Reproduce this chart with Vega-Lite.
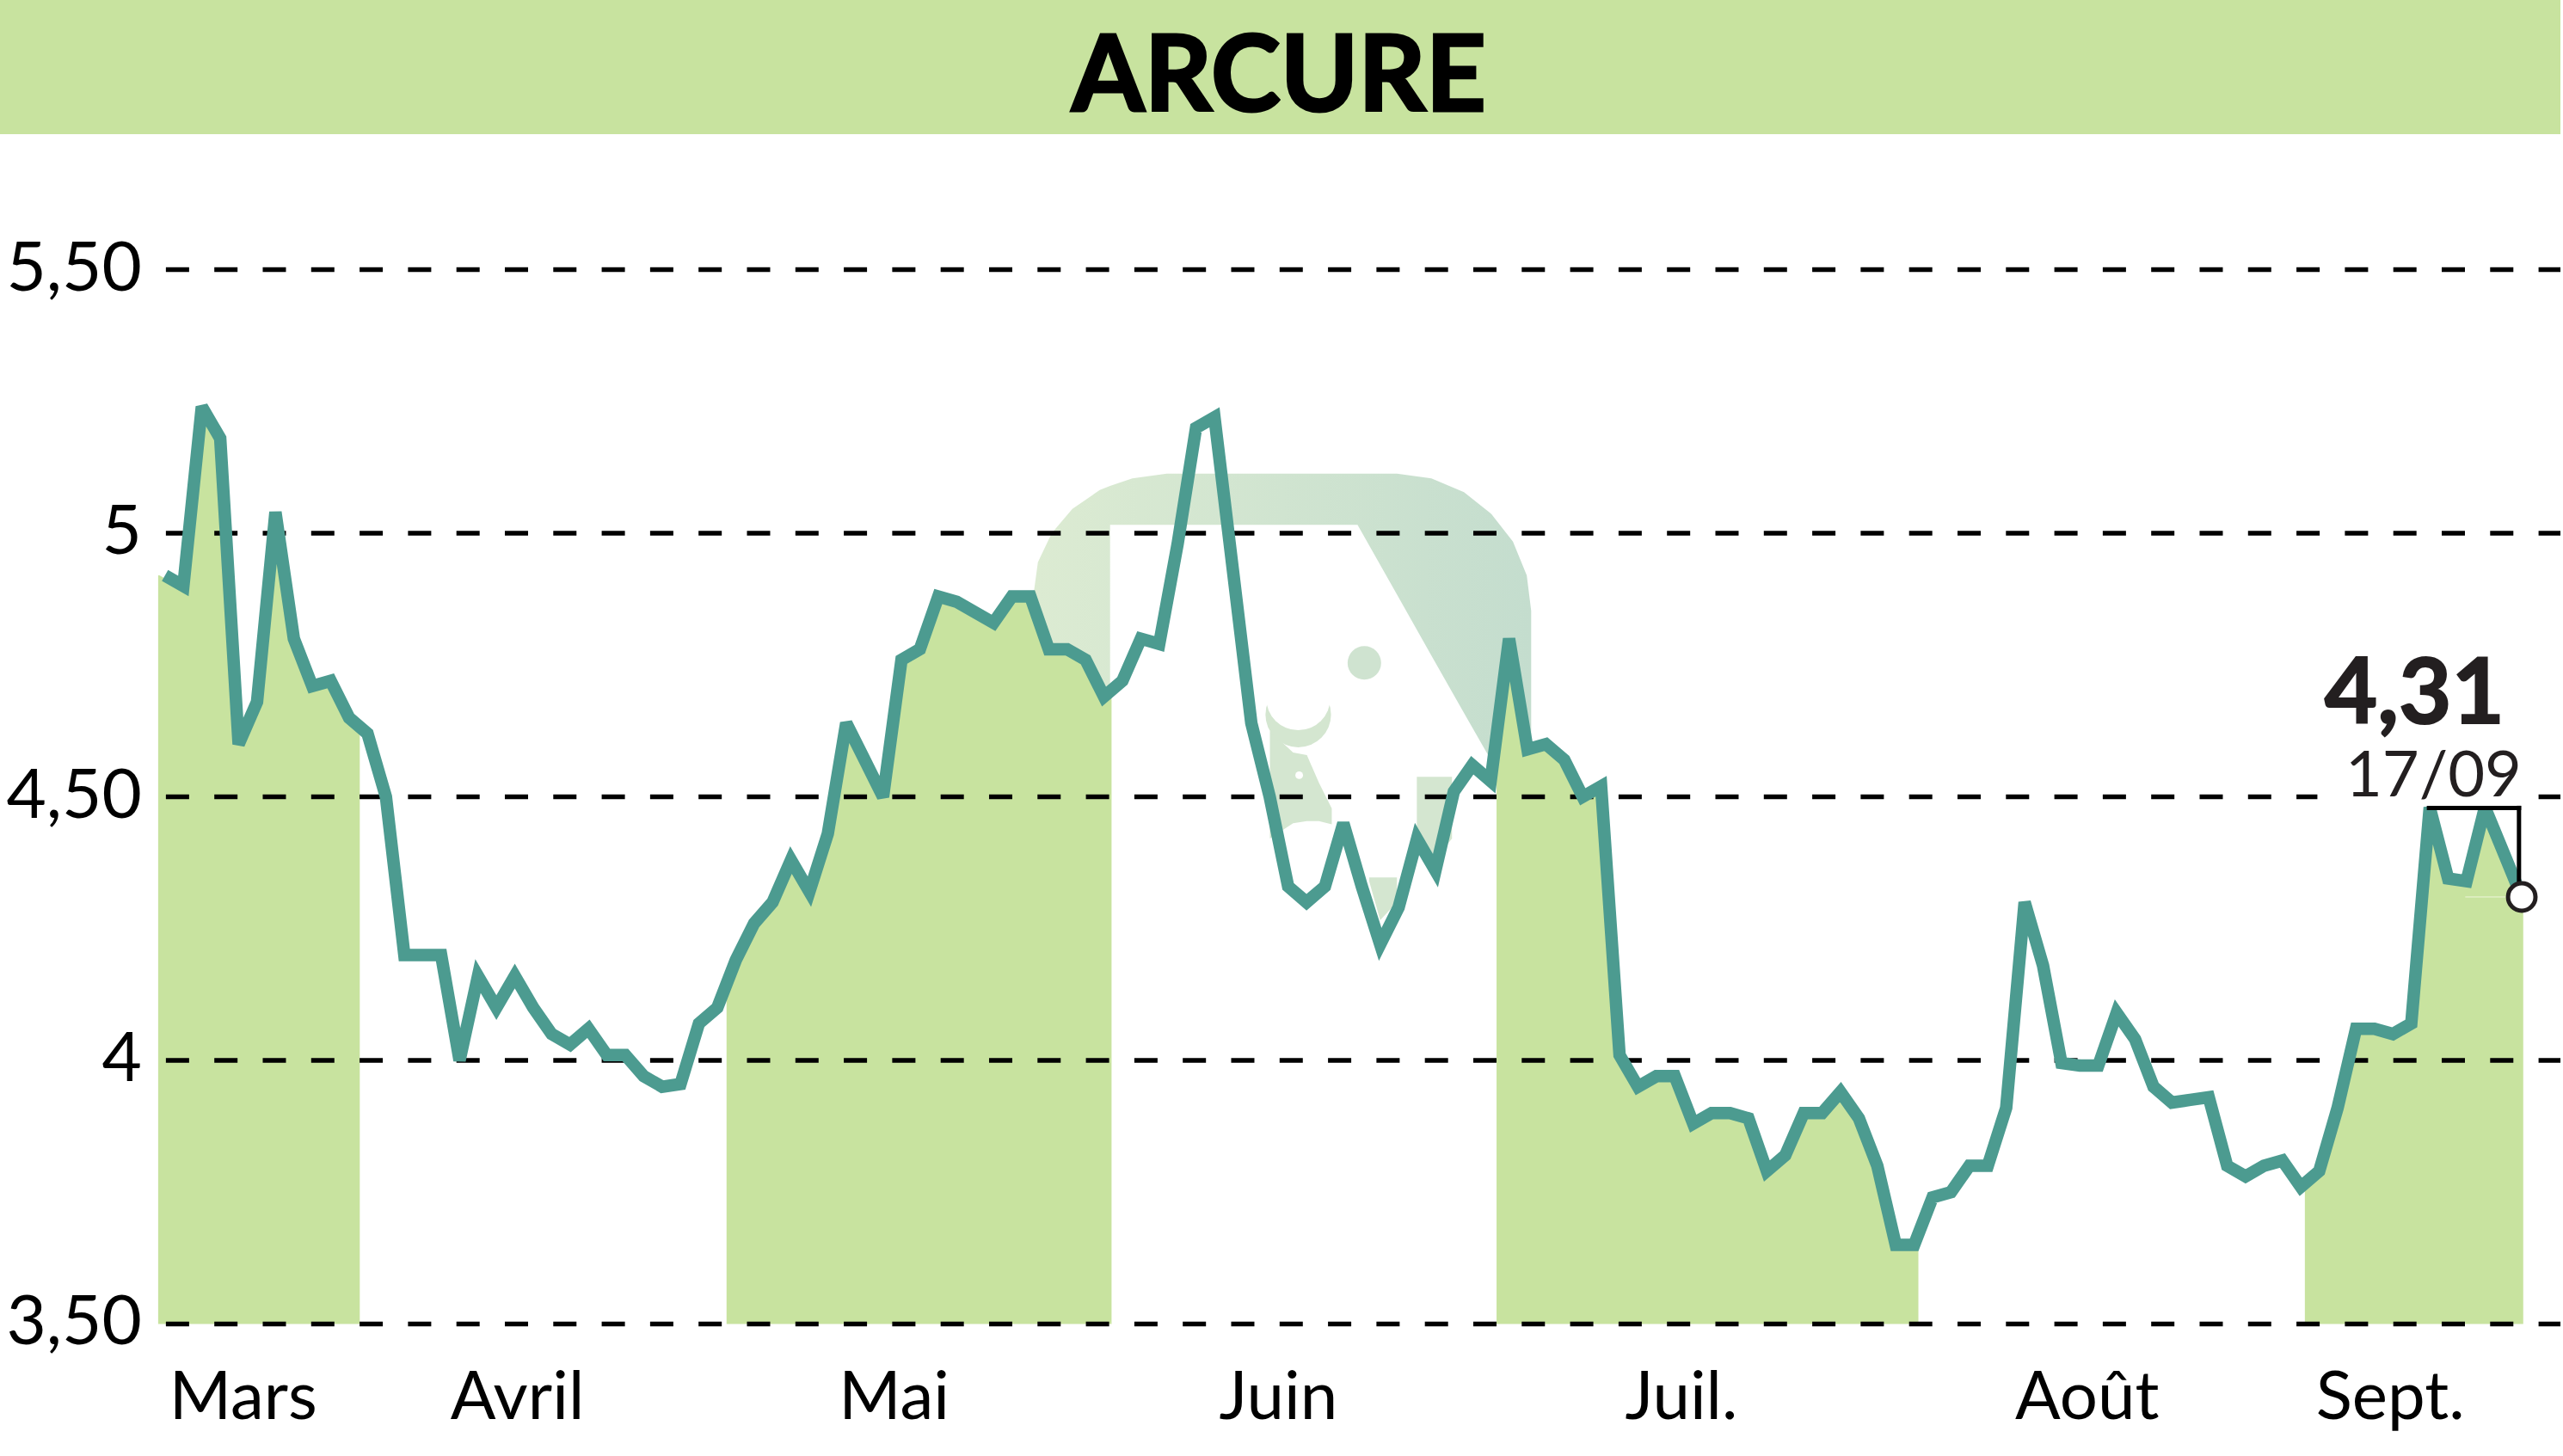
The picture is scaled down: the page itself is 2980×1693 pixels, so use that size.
{
  "$schema": "https://vega.github.io/schema/vega-lite/v6.json",
  "autosize": {"type": "fit", "contains": "padding"},
  "padding": 0,
  "width": 2980,
  "height": 1693,
  "background": "white",
  "config": {"view": {"stroke": null}, "axis": {"disable": true}, "text": {"font": "Lato"}},
  "datasets": {
    "prices": [
      {"day":0,"price":4.92},{"day":1,"price":4.90},{"day":2,"price":5.24},{"day":3,"price":5.18},{"day":4,"price":4.60},{"day":5,"price":4.68},{"day":6,"price":5.04},{"day":7,"price":4.80},{"day":8,"price":4.71},{"day":9,"price":4.72},
      {"day":10,"price":4.65},{"day":11,"price":4.62},{"day":12,"price":4.50},{"day":13,"price":4.20},{"day":14,"price":4.20},{"day":15,"price":4.20},{"day":16,"price":4.00},{"day":17,"price":4.16},{"day":18,"price":4.10},{"day":19,"price":4.16},
      {"day":20,"price":4.10},{"day":21,"price":4.05},{"day":22,"price":4.03},{"day":23,"price":4.06},{"day":24,"price":4.01},{"day":25,"price":4.01},{"day":26,"price":3.97},{"day":27,"price":3.95},{"day":28,"price":3.955},{"day":29,"price":4.07},
      {"day":30,"price":4.10},{"day":31,"price":4.19},{"day":32,"price":4.26},{"day":33,"price":4.30},{"day":34,"price":4.38},{"day":35,"price":4.32},{"day":36,"price":4.43},{"day":37,"price":4.64},{"day":38,"price":4.57},{"day":39,"price":4.50},
      {"day":40,"price":4.76},{"day":41,"price":4.78},{"day":42,"price":4.88},{"day":43,"price":4.87},{"day":44,"price":4.85},{"day":45,"price":4.83},{"day":46,"price":4.88},{"day":47,"price":4.88},{"day":48,"price":4.78},{"day":49,"price":4.78},
      {"day":50,"price":4.76},{"day":51,"price":4.69},{"day":52,"price":4.72},{"day":53,"price":4.80},{"day":54,"price":4.79},{"day":55,"price":4.98},{"day":56,"price":5.20},{"day":57,"price":5.22},{"day":58,"price":4.93},{"day":59,"price":4.64},
      {"day":60,"price":4.50},{"day":61,"price":4.33},{"day":62,"price":4.30},{"day":63,"price":4.33},{"day":64,"price":4.45},{"day":65,"price":4.33},{"day":66,"price":4.22},{"day":67,"price":4.29},{"day":68,"price":4.42},{"day":69,"price":4.36},
      {"day":70,"price":4.51},{"day":71,"price":4.56},{"day":72,"price":4.53},{"day":73,"price":4.80},{"day":74,"price":4.59},{"day":75,"price":4.60},{"day":76,"price":4.57},{"day":77,"price":4.50},{"day":78,"price":4.52},{"day":79,"price":4.01},
      {"day":80,"price":3.95},{"day":81,"price":3.97},{"day":82,"price":3.97},{"day":83,"price":3.88},{"day":84,"price":3.90},{"day":85,"price":3.90},{"day":86,"price":3.89},{"day":87,"price":3.79},{"day":88,"price":3.82},{"day":89,"price":3.90},
      {"day":90,"price":3.90},{"day":91,"price":3.94},{"day":92,"price":3.89},{"day":93,"price":3.80},{"day":94,"price":3.65},{"day":95,"price":3.65},{"day":96,"price":3.74},{"day":97,"price":3.75},{"day":98,"price":3.80},{"day":99,"price":3.80},
      {"day":100,"price":3.91},{"day":101,"price":4.30},{"day":102,"price":4.18},{"day":103,"price":3.995},{"day":104,"price":3.99},{"day":105,"price":3.99},{"day":106,"price":4.09},{"day":107,"price":4.04},{"day":108,"price":3.95},{"day":109,"price":3.92},
      {"day":110,"price":3.925},{"day":111,"price":3.93},{"day":112,"price":3.80},{"day":113,"price":3.78},{"day":114,"price":3.80},{"day":115,"price":3.81},{"day":116,"price":3.76},{"day":117,"price":3.79},{"day":118,"price":3.91},{"day":119,"price":4.06},
      {"day":120,"price":4.06},{"day":121,"price":4.05},{"day":122,"price":4.07},{"day":123,"price":4.48},{"day":124,"price":4.345},{"day":125,"price":4.34},{"day":126,"price":4.48},{"day":127,"price":4.395},{"day":128,"price":4.31}
    ],
    "shade": [
      {"month":"Mars","x":-0.37,"price":4.92},{"month":"Mars","x":-0.3,"price":4.92},{"month":"Mars","x":0.7,"price":4.90},{"month":"Mars","x":1.7,"price":5.24},{"month":"Mars","x":2.7,"price":5.18},{"month":"Mars","x":3.7,"price":4.60},{"month":"Mars","x":4.7,"price":4.68},{"month":"Mars","x":5.7,"price":5.04},{"month":"Mars","x":6.7,"price":4.80},{"month":"Mars","x":7.7,"price":4.71},{"month":"Mars","x":8.7,"price":4.72},{"month":"Mars","x":9.7,"price":4.65},{"month":"Mars","x":10.58,"price":4.63},
      {"month":"Mai","x":30.5,"price":4.145},{"month":"Mai","x":30.7,"price":4.19},{"month":"Mai","x":31.7,"price":4.26},{"month":"Mai","x":32.7,"price":4.30},{"month":"Mai","x":33.7,"price":4.38},{"month":"Mai","x":34.7,"price":4.32},{"month":"Mai","x":35.7,"price":4.43},{"month":"Mai","x":36.7,"price":4.64},{"month":"Mai","x":37.7,"price":4.57},{"month":"Mai","x":38.7,"price":4.50},{"month":"Mai","x":39.7,"price":4.76},{"month":"Mai","x":40.7,"price":4.78},{"month":"Mai","x":41.7,"price":4.88},{"month":"Mai","x":42.7,"price":4.87},{"month":"Mai","x":43.7,"price":4.85},{"month":"Mai","x":44.7,"price":4.83},{"month":"Mai","x":45.7,"price":4.88},{"month":"Mai","x":46.7,"price":4.88},{"month":"Mai","x":47.7,"price":4.78},{"month":"Mai","x":48.7,"price":4.78},{"month":"Mai","x":49.7,"price":4.76},{"month":"Mai","x":50.7,"price":4.69},{"month":"Mai","x":51.41,"price":4.70},
      {"month":"Juil.","x":72.32,"price":4.617},{"month":"Juil.","x":72.7,"price":4.80},{"month":"Juil.","x":73.7,"price":4.59},{"month":"Juil.","x":74.7,"price":4.60},{"month":"Juil.","x":75.7,"price":4.57},{"month":"Juil.","x":76.7,"price":4.50},{"month":"Juil.","x":77.7,"price":4.52},{"month":"Juil.","x":78.7,"price":4.01},{"month":"Juil.","x":79.7,"price":3.95},{"month":"Juil.","x":80.7,"price":3.97},{"month":"Juil.","x":81.7,"price":3.97},{"month":"Juil.","x":82.7,"price":3.88},{"month":"Juil.","x":83.7,"price":3.90},{"month":"Juil.","x":84.7,"price":3.90},{"month":"Juil.","x":85.7,"price":3.89},{"month":"Juil.","x":86.7,"price":3.79},{"month":"Juil.","x":87.7,"price":3.82},{"month":"Juil.","x":88.7,"price":3.90},{"month":"Juil.","x":89.7,"price":3.90},{"month":"Juil.","x":90.7,"price":3.94},{"month":"Juil.","x":91.7,"price":3.89},{"month":"Juil.","x":92.7,"price":3.80},{"month":"Juil.","x":93.7,"price":3.65},{"month":"Juil.","x":94.7,"price":3.65},{"month":"Juil.","x":95.23,"price":3.67},
      {"month":"Sept.","x":116.22,"price":3.77},{"month":"Sept.","x":116.7,"price":3.79},{"month":"Sept.","x":117.7,"price":3.91},{"month":"Sept.","x":118.7,"price":4.06},{"month":"Sept.","x":119.7,"price":4.06},{"month":"Sept.","x":120.7,"price":4.05},{"month":"Sept.","x":121.7,"price":4.07},{"month":"Sept.","x":122.7,"price":4.48},{"month":"Sept.","x":123.7,"price":4.345},{"month":"Sept.","x":124.7,"price":4.34},{"month":"Sept.","x":125.7,"price":4.48},{"month":"Sept.","x":126.7,"price":4.395},{"month":"Sept.","x":127.7,"price":4.31},{"month":"Sept.","x":128.08,"price":4.31}
    ],
    "logo": [
      {"x":47.18,"top":4.886,"bottom":4.65},{"x":47.41,"top":4.945,"bottom":4.65},{"x":48.16,"top":5.0,"bottom":4.65},{"x":49.28,"top":5.046,"bottom":4.65},{"x":50.77,"top":5.082,"bottom":4.65},{"x":51.33,"top":5.09,"bottom":4.65},
      {"x":51.33,"top":5.09,"bottom":5.016},{"x":52.54,"top":5.104,"bottom":5.016},{"x":54.41,"top":5.113,"bottom":5.016},{"x":64.77,"top":5.113,"bottom":5.016},{"x":66.91,"top":5.113,"bottom":4.884},
      {"x":68.78,"top":5.104,"bottom":4.768},{"x":70.55,"top":5.078,"bottom":4.659},{"x":71.96,"top":5.039,"bottom":4.573},{"x":72.05,"top":5.036,"bottom":4.573},{"x":73.21,"top":4.984,"bottom":4.573},{"x":73.96,"top":4.92,"bottom":4.573},{"x":74.2,"top":4.853,"bottom":4.573}
    ],
    "logoBits": [
      {"piece":"trunk","x":60.01,"top":4.625,"bottom":4.421},{"piece":"trunk","x":61.27,"top":4.584,"bottom":4.450},{"piece":"trunk","x":62.02,"top":4.579,"bottom":4.454},{"piece":"trunk","x":62.67,"top":4.527,"bottom":4.454},{"piece":"trunk","x":63.37,"top":4.478,"bottom":4.448},
      {"piece":"block","x":67.99,"top":4.538,"bottom":4.421},{"piece":"block","x":68.97,"top":4.538,"bottom":4.380},{"piece":"block","x":69.9,"top":4.538,"bottom":4.421},
      {"piece":"foot","x":65.4,"top":4.347,"bottom":4.34},{"piece":"foot","x":66.0,"top":4.347,"bottom":4.266},{"piece":"foot","x":66.91,"top":4.347,"bottom":4.30}
    ],
    "grid": [{"level":5.5,"start":0.05,"end":130.1},{"level":5,"start":0.05,"end":130.1},{"level":4.5,"start":0.05,"end":130.1},{"level":4,"start":0.05,"end":130.1},{"level":3.5,"start":0.05,"end":130.1}]
  },
  "layer": [
    {
      "data": {"values": [{"from": -8.96, "to": 130.1, "low": 5.757, "high": 6.0117}]},
      "mark": {"type": "rect", "color": "#c8e39f"},
      "encoding": {
        "x": {"field": "from", "type": "quantitative", "scale": {"domain": [-8.96, 130.1], "nice": false, "zero": false}},
        "x2": {"field": "to"},
        "y": {"field": "low", "type": "quantitative", "scale": {"domain": [3.2494, 6.0117], "nice": false, "zero": false}},
        "y2": {"field": "high"}
      }
    },
    {
      "data": {"name": "logo"},
      "mark": {"type": "area", "color": {"x1": 0, "y1": 0, "x2": 1, "y2": 0, "gradient": "linear", "stops": [{"offset": 0, "color": "#dcebd2"}, {"offset": 1, "color": "#c4ddce"}]}},
      "encoding": {
        "x": {"field": "x", "type": "quantitative"},
        "y": {"field": "top", "type": "quantitative"},
        "y2": {"field": "bottom"}
      }
    },
    {
      "data": {"name": "logoBits"},
      "mark": {"type": "area", "color": "#d4e6d0"},
      "encoding": {
        "x": {"field": "x", "type": "quantitative"},
        "y": {"field": "top", "type": "quantitative"},
        "y2": {"field": "bottom"},
        "detail": {"field": "piece"}
      }
    },
    {
      "data": {"values": [
        {"x": 61.55, "y": 4.656, "area": 5809, "tone": "#d4e6d0", "rank": 1},
        {"x": 61.55, "y": 4.687, "area": 5542, "tone": "#ffffff", "rank": 2},
        {"x": 61.6, "y": 4.541, "area": 80, "tone": "#ffffff", "rank": 3},
        {"x": 65.14, "y": 4.754, "area": 1520, "tone": "#cfe3d0", "rank": 4}
      ]},
      "mark": {"type": "point", "shape": "circle", "filled": true, "opacity": 1},
      "encoding": {
        "x": {"field": "x", "type": "quantitative"},
        "y": {"field": "y", "type": "quantitative"},
        "size": {"field": "area", "type": "quantitative", "scale": null},
        "color": {"field": "tone", "type": "nominal", "scale": null},
        "order": {"field": "rank"}
      }
    },
    {
      "data": {"name": "shade"},
      "mark": {"type": "area", "color": "#c8e39f"},
      "encoding": {
        "x": {"field": "x", "type": "quantitative"},
        "y": {"field": "price", "type": "quantitative"},
        "y2": {"datum": 3.5},
        "detail": {"field": "month"}
      }
    },
    {
      "data": {"name": "grid"},
      "mark": {"type": "rule", "color": "#000000", "strokeWidth": 5.5, "strokeDash": [27, 29.3]},
      "encoding": {
        "x": {"field": "start", "type": "quantitative"},
        "x2": {"field": "end"},
        "y": {"field": "level", "type": "quantitative"}
      }
    },
    {
      "data": {"name": "prices"},
      "mark": {"type": "line", "color": "#4c9b90", "strokeWidth": 14.5, "strokeJoin": "miter", "strokeMiterLimit": 3},
      "encoding": {
        "x": {"field": "day", "type": "quantitative"},
        "y": {"field": "price", "type": "quantitative"}
      }
    },
    {
      "data": {"values": [{"from": 116.9, "to": 128.84, "low": 4.483, "high": 4.755}]},
      "mark": {"type": "rect", "color": "#ffffff"},
      "encoding": {
        "x": {"field": "from", "type": "quantitative"},
        "x2": {"field": "to"},
        "y": {"field": "low", "type": "quantitative"},
        "y2": {"field": "high"}
      }
    },
    {
      "data": {"values": [{"from": 124.93, "to": 127.5, "level": 4.31}]},
      "mark": {"type": "rule", "color": "#eef6dc", "strokeWidth": 1},
      "encoding": {
        "x": {"field": "from", "type": "quantitative"},
        "x2": {"field": "to"},
        "y": {"field": "level", "type": "quantitative"}
      }
    },
    {
      "data": {"values": [
        {"x": 122.96, "x2": 127.85, "y": 4.479, "y2": 4.479},
        {"x": 127.85, "x2": 127.85, "y": 4.479, "y2": 4.33}
      ]},
      "mark": {"type": "rule", "color": "#000000", "strokeWidth": 5, "strokeCap": "square"},
      "encoding": {
        "x": {"field": "x", "type": "quantitative"},
        "x2": {"field": "x2"},
        "y": {"field": "y", "type": "quantitative"},
        "y2": {"field": "y2"}
      }
    },
    {
      "data": {"values": [{"day": 128, "price": 4.31}]},
      "mark": {"type": "point", "shape": "circle", "filled": true, "fill": "#ffffff", "stroke": "#231f20", "strokeWidth": 5, "size": 1018, "opacity": 1},
      "encoding": {
        "x": {"field": "day", "type": "quantitative"},
        "y": {"field": "price", "type": "quantitative"}
      }
    },
    {
      "data": {"values": [{"x": 60.5, "y": 5.801, "label": "ARCURE"}]},
      "mark": {"type": "text", "fontWeight": "bold", "fontSize": 122, "color": "#000000", "stroke": "#000000", "strokeWidth": 3, "align": "center", "baseline": "alphabetic"},
      "encoding": {
        "x": {"field": "x", "type": "quantitative"},
        "y": {"field": "y", "type": "quantitative"},
        "text": {"field": "label"}
      }
    },
    {
      "data": {"values": [
        {"x": -1.26, "y": 5.5, "label": "5,50"},
        {"x": -1.26, "y": 5, "label": "5"},
        {"x": -1.26, "y": 4.5, "label": "4,50"},
        {"x": -1.26, "y": 4, "label": "4"},
        {"x": -1.26, "y": 3.5, "label": "3,50"}
      ]},
      "mark": {"type": "text", "fontSize": 80, "color": "#000000", "align": "right", "baseline": "middle"},
      "encoding": {
        "x": {"field": "x", "type": "quantitative"},
        "y": {"field": "y", "type": "quantitative"},
        "text": {"field": "label"}
      }
    },
    {
      "data": {"values": [
        {"x": 4.25, "y": 3.32, "label": "Mars"},
        {"x": 19.14, "y": 3.32, "label": "Avril"},
        {"x": 39.6, "y": 3.32, "label": "Mai"},
        {"x": 60.47, "y": 3.32, "label": "Juin"},
        {"x": 82.36, "y": 3.32, "label": "Juil."},
        {"x": 104.4, "y": 3.32, "label": "Août"},
        {"x": 120.86, "y": 3.32, "label": "Sept."}
      ]},
      "mark": {"type": "text", "fontSize": 78, "color": "#000000", "align": "center", "baseline": "alphabetic"},
      "encoding": {
        "x": {"field": "x", "type": "quantitative"},
        "y": {"field": "y", "type": "quantitative"},
        "text": {"field": "label"}
      }
    },
    {
      "data": {"values": [{"x": 127.06, "y": 4.639, "label": "4,31"}]},
      "mark": {"type": "text", "fontWeight": "bold", "fontSize": 106, "color": "#231f20", "stroke": "#231f20", "strokeWidth": 2, "align": "right", "baseline": "alphabetic"},
      "encoding": {
        "x": {"field": "x", "type": "quantitative"},
        "y": {"field": "y", "type": "quantitative"},
        "text": {"field": "label"}
      }
    },
    {
      "data": {"values": [{"x": 128, "y": 4.501, "label": "17/09"}]},
      "mark": {"type": "text", "fontSize": 74, "color": "#231f20", "align": "right", "baseline": "alphabetic"},
      "encoding": {
        "x": {"field": "x", "type": "quantitative"},
        "y": {"field": "y", "type": "quantitative"},
        "text": {"field": "label"}
      }
    }
  ]
}
